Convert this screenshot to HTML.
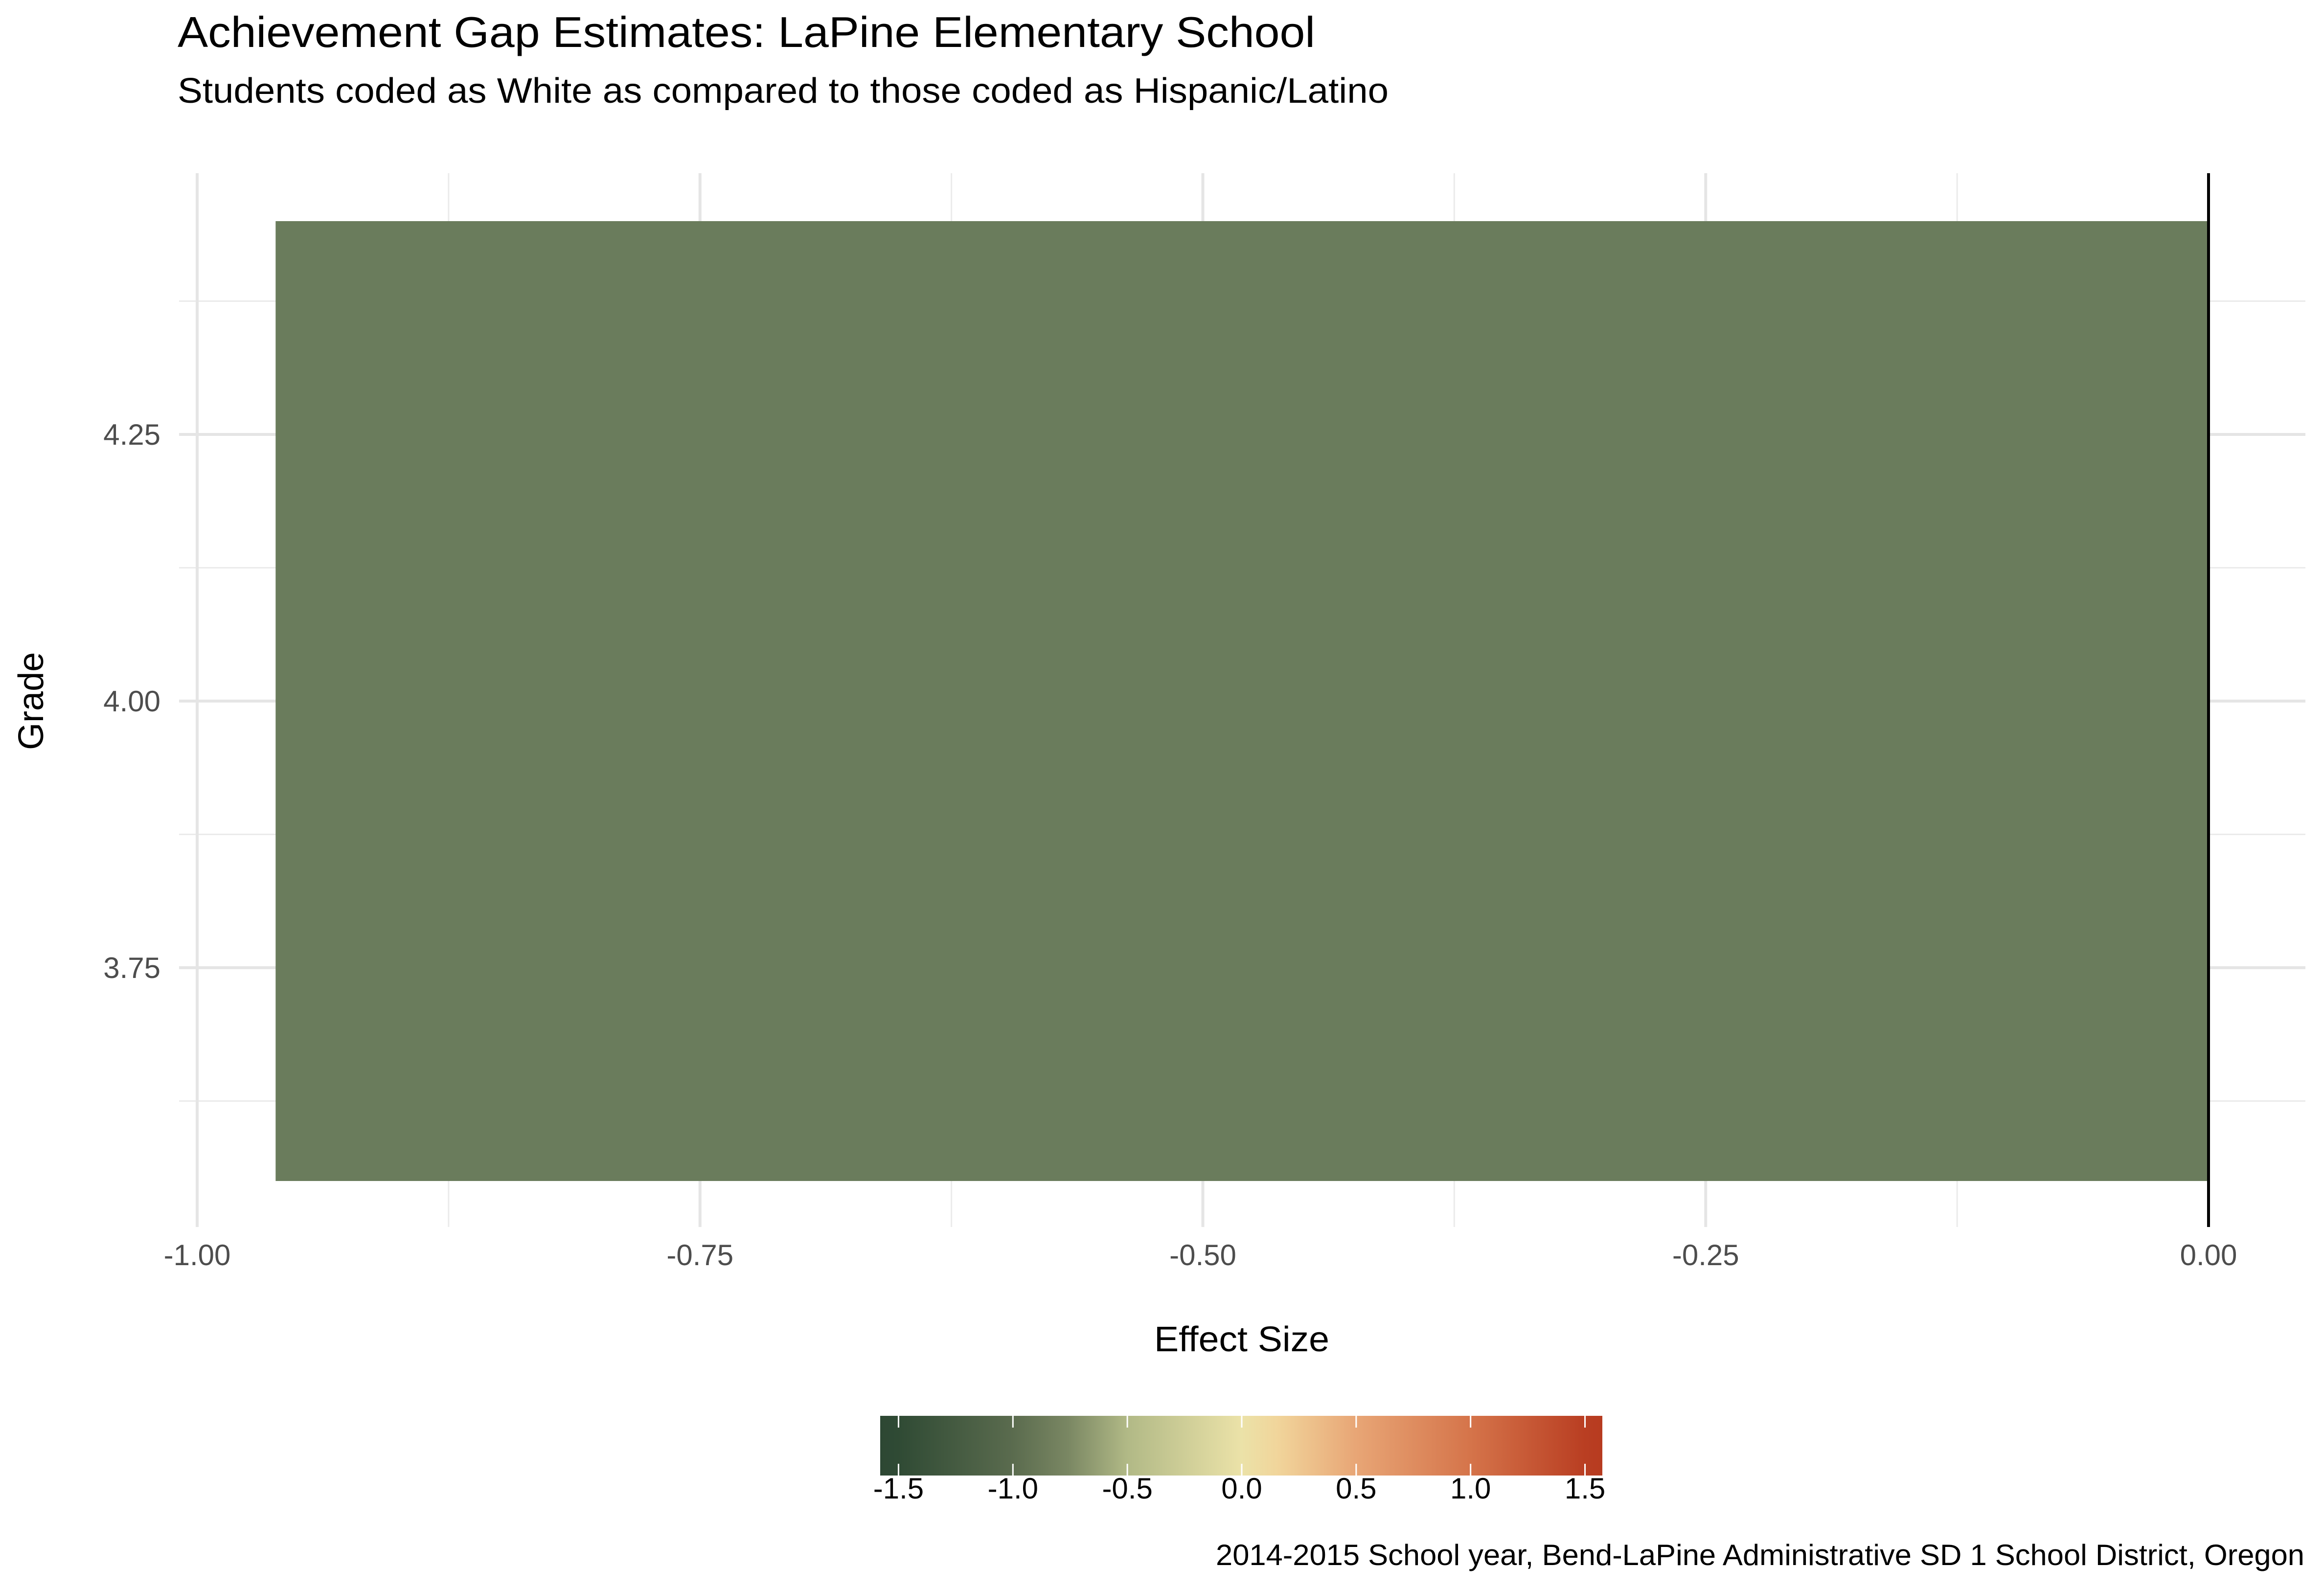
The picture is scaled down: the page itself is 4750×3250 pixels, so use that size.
<!DOCTYPE html>
<html><head><meta charset="utf-8"><style>
html,body{margin:0;padding:0;background:#fff;}
svg{display:block;font-family:"Liberation Sans",Arial,sans-serif;}
</style></head><body>
<svg id="chart" width="4750" height="3250" viewBox="0 0 4750 3250" xmlns="http://www.w3.org/2000/svg">
<defs>
<linearGradient id="cg" x1="0" x2="1" y1="0" y2="0">
<stop offset="0" stop-color="#2d4733"/>
<stop offset="0.024" stop-color="#2f4a34"/>
<stop offset="0.183" stop-color="#5a6b4e"/>
<stop offset="0.26" stop-color="#7a8763"/>
<stop offset="0.342" stop-color="#b1b986"/>
<stop offset="0.5" stop-color="#ebe2a8"/>
<stop offset="0.55" stop-color="#f1d59b"/>
<stop offset="0.658" stop-color="#e8a676"/>
<stop offset="0.817" stop-color="#d5744a"/>
<stop offset="0.976" stop-color="#b93e22"/>
<stop offset="1" stop-color="#b73b20"/>
</linearGradient>
</defs>
<text x="363" y="96" font-size="88" textLength="2325" lengthAdjust="spacingAndGlyphs" fill="#000">Achievement Gap Estimates: LaPine Elementary School</text>
<text x="363" y="210" font-size="72" textLength="2475" lengthAdjust="spacingAndGlyphs" fill="#000">Students coded as White as compared to those coded as Hispanic/Latino</text>
<g id="grid"></g>
<g id="marks"></g>
<g id="axes"></g>
<text x="2538" y="2762" font-size="72" text-anchor="middle" textLength="358" lengthAdjust="spacingAndGlyphs" fill="#000">Effect Size</text>
<text transform="translate(88,1433) rotate(-90)" font-size="72" text-anchor="middle" fill="#000">Grade</text>
<rect x="1799" y="2894" width="1476" height="122" fill="url(#cg)"/>
<g id="legend"></g>
<text x="4710" y="3199" font-size="60" text-anchor="end" textLength="2225" lengthAdjust="spacingAndGlyphs" fill="#000">2014-2015 School year, Bend-LaPine Administrative SD 1 School District, Oregon</text>
</svg>
<script>
const grades = [4];
const effects = [-0.961];
const xTicks = [-1, -0.75, -0.5, -0.25, 0];
const xTickLabels = ["-1.00", "-0.75", "-0.50", "-0.25", "0.00"];
const yTicks = [3.75, 4.0, 4.25];
const yTickLabels = ["3.75", "4.00", "4.25"];
const legendTicks = [-1.5, -1.0, -0.5, 0, 0.5, 1.0, 1.5];
const legendLabels = ["-1.5", "-1.0", "-0.5", "0.0", "0.5", "1.0", "1.5"];

const NS = "http://www.w3.org/2000/svg";
const X0 = 403, X1 = 4514;
const sx = v => X0 + (v + 1) * (X1 - X0);
const sy = v => 1433 - (v - 4) * 2180;
const lx = v => 2538 + v * 467.7;
const PT = 354, PB = 2508, PL = 366, PR = 4712;
function mk(tag, attrs, parent){const e=document.createElementNS(NS,tag);for(const k in attrs)e.setAttribute(k,attrs[k]);parent.appendChild(e);return e;}
const grid=document.getElementById('grid'), marks=document.getElementById('marks'), axes=document.getElementById('axes'), legend=document.getElementById('legend');
for(let i=0;i<xTicks.length-1;i++){
  const v=(xTicks[i]+xTicks[i+1])/2;
  const l=mk('line',{x1:sx(v),x2:sx(v),y1:PT,y2:PB,stroke:'#ebebeb','stroke-width':3},grid);
  
  
}
const yMinor=[3.625,3.875,4.125,4.375];
yMinor.forEach(v=>{
  const l=mk('line',{x1:PL,x2:PR,y1:sy(v),y2:sy(v),stroke:'#ebebeb','stroke-width':3},grid);
  
  
});
xTicks.forEach((v,i)=>{
  const l=mk('line',{x1:sx(v),x2:sx(v),y1:PT,y2:PB,stroke:'#e5e5e5','stroke-width':6},grid);
  
  
  const t=mk('text',{x:sx(v),y:2586,'font-size':60,'text-anchor':'middle',fill:'#4d4d4d'},axes);
  t.textContent=xTickLabels[i];
  
  
});
yTicks.forEach((v,i)=>{
  const l=mk('line',{x1:PL,x2:PR,y1:sy(v),y2:sy(v),stroke:'#e5e5e5','stroke-width':6},grid);
  
  
  const t=mk('text',{x:328,y:sy(v)+21,'font-size':60,'text-anchor':'end',fill:'#4d4d4d'},axes);
  t.textContent=yTickLabels[i];
  
  
});
grades.forEach((g,i)=>{
  const e=effects[i];
  const x=Math.min(sx(0),sx(e)), w=Math.abs(sx(e)-sx(0));
  const r=mk('rect',{x:x,y:sy(g+0.45),width:w,height:sy(g-0.45)-sy(g+0.45),fill:'#6a7c5c'},marks);
  
  
});
const z=mk('line',{x1:sx(0),x2:sx(0),y1:PT,y2:PB,stroke:'#000','stroke-width':6},axes);


legendTicks.forEach((v,i)=>{
  const a=mk('line',{x1:lx(v),x2:lx(v),y1:2894,y2:2918,stroke:'#fff','stroke-width':3},legend);
  
  
  const b=mk('line',{x1:lx(v),x2:lx(v),y1:2992,y2:3016,stroke:'#fff','stroke-width':3},legend);
  
  
  const t=mk('text',{x:lx(v),y:3063,'font-size':60,'text-anchor':'middle',fill:'#000'},legend);
  t.textContent=legendLabels[i];
  
  
});
</script>
</body></html>
